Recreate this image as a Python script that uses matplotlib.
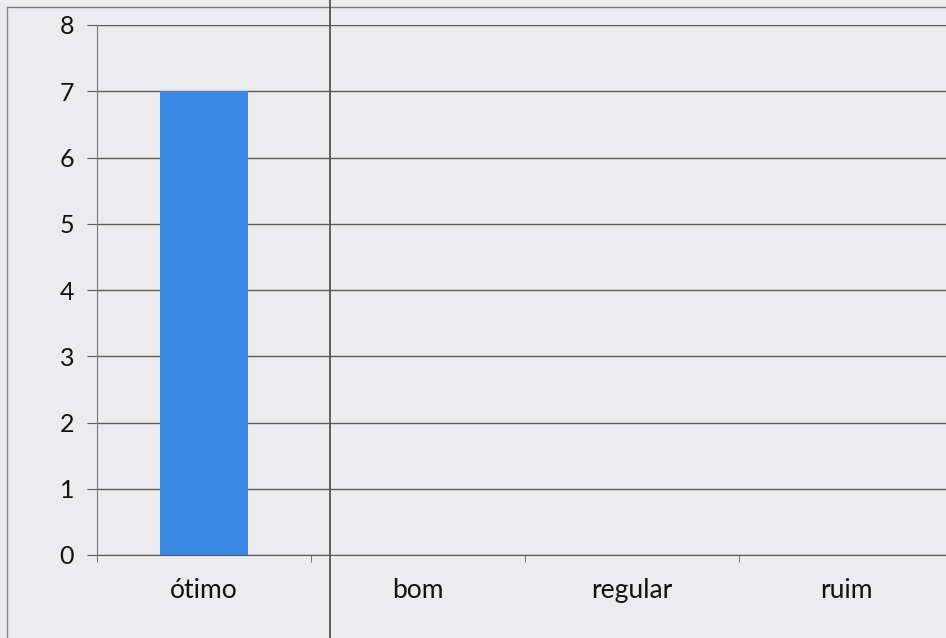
import matplotlib
matplotlib.use("Agg")
import matplotlib.pyplot as plt
from matplotlib.lines import Line2D

categories = ["ótimo", "bom", "regular", "ruim"]
values = [7, 0, 0, 0]
yticks = [0, 1, 2, 3, 4, 5, 6, 7, 8]

plt.rcParams['font.family'] = ['Lato', 'DejaVu Sans']

W, H = 946, 638
fig = plt.figure(figsize=(W/100, H/100), dpi=100)
bg = "#ececef"
fig.patch.set_facecolor(bg)

left, right, top, bottom = 97, 953, 25, 555
ax = fig.add_axes([left/W, (H-bottom)/H, (right-left)/W, (bottom-top)/H])
ax.set_facecolor(bg)

x = list(range(len(categories)))
ax.bar(x, values, width=0.41, color="#3a88e2", zorder=3)
ax.set_xlim(-0.5, len(categories) - 0.5)
ax.set_ylim(0, 8)
ax.set_yticks(yticks)
ax.set_yticklabels([str(v) for v in yticks], fontsize=18, color="#111111")
ax.set_xticks(x)
ax.set_xticklabels(categories, fontsize=19, color="#111111")
ax.set_xticks([i - 0.5 for i in range(len(categories) + 1)], minor=True)

ax.grid(axis='y', color="#5a5a5a", linewidth=1.0, zorder=0)
for s in ['top', 'right']:
    ax.spines[s].set_visible(False)
ax.spines['left'].set_color("#777777")
ax.spines['bottom'].set_color("#5a5a5a")
ax.tick_params(axis='y', length=7, color="#5a5a5a", pad=9.5)
ax.tick_params(axis='x', which='major', length=0, pad=16.5)
ax.tick_params(axis='x', which='minor', length=5, color="#5a5a5a")

# outer chart border and scan fold line
fig.add_artist(Line2D([7/W, 1], [1 - 7/H, 1 - 7/H], transform=fig.transFigure, color="#777777", linewidth=1))
fig.add_artist(Line2D([7/W, 7/W], [0, 1 - 7/H], transform=fig.transFigure, color="#888888", linewidth=1))
fig.add_artist(Line2D([330/W, 330/W], [0, 1], transform=fig.transFigure, color="#555555", linewidth=1.3))

fig.savefig("out.png", dpi=100, facecolor=bg)
